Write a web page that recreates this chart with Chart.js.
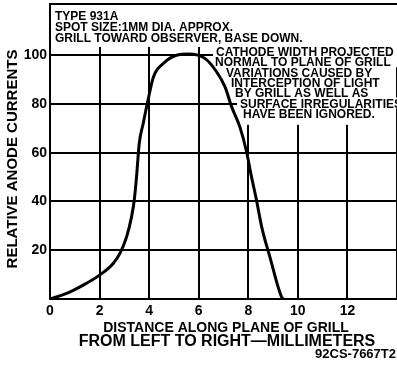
<!DOCTYPE html>
<html>
<head>
<meta charset="utf-8">
<script src="https://cdn.jsdelivr.net/npm/chart.js@4.4.1/dist/chart.umd.min.js"></script>
<style>
  body { margin: 0; background: #fff; }
  canvas { display: block; }
</style>
</head>
<body>
<canvas id="chart" width="397" height="366"></canvas>
<script>
// ค่าที่อ่านจากกราฟ (ระยะ มม., กระแสแอโนดสัมพัทธ์)
const distance = [0, 0.67, 1.34, 2.0, 2.55, 2.82, 3.09, 3.29, 3.40, 3.49, 3.60, 3.76, 3.94, 4.17, 4.57, 5.1, 5.6, 6.25, 6.72, 7.06, 7.33, 7.66, 7.93, 8.13, 8.33, 8.54, 8.87, 9.34, 9.42];
const current  = [0, 2.3, 5.7, 9.8, 14.6, 18.7, 25.5, 33.7, 40.6, 50, 63.8, 72, 80.9, 91, 96.6, 100, 100.5, 98.7, 93.2, 87, 78.8, 70.6, 60.4, 50.1, 40.6, 29.6, 17.3, 0.9, 0];
const yTicks = [0, 20, 40, 60, 80, 100];
const noteLeft = ['TYPE 931A', 'SPOT SIZE:1MM DIA. APPROX.', 'GRILL TOWARD OBSERVER, BASE DOWN.'];
const noteRight = ['CATHODE WIDTH PROJECTED', 'NORMAL TO PLANE OF GRILL', 'VARIATIONS CAUSED BY', 'INTERCEPTION OF LIGHT', 'BY GRILL AS WELL AS', 'SURFACE IRREGULARITIES', 'HAVE BEEN IGNORED.'];
const noteRightX = [216, 215, 226, 231, 235, 240, 243];
const yTitle = 'RELATIVE ANODE CURRENTS';
const xTitle = ['DISTANCE ALONG PLANE OF GRILL', 'FROM LEFT TO RIGHT\u2014MILLIMETERS'];
const figCode = '92CS-7667T2';

const FONT = '"Liberation Sans", Arial, sans-serif';

// ปลั๊กอินสำหรับข้อความบนกราฟ
const notesPlugin = {
    id: 'notes',
    beforeDatasetsDraw(chart) {
        const ctx = chart.ctx;
        const a = chart.chartArea;
        ctx.save();
        ctx.fillStyle = '#fff';
        ctx.fillRect(a.left + 1, a.top + 1, a.right - a.left, 42);
        ctx.font = 'bold 12px ' + FONT;
        noteRight.forEach((t, i) => {
            const base = 56 + i * 10.3;
            const w = ctx.measureText(t).width;
            const extra = i === noteRight.length - 1 ? 6 : 0;
            ctx.fillRect(noteRightX[i] - 3, base - 10, w + 10, 11 + extra);
        });
        ctx.fillStyle = '#000';
        ctx.textBaseline = 'alphabetic';
        noteLeft.forEach((t, i) => {
            ctx.fillText(t, 55, 20 + i * 11);
        });
        noteRight.forEach((t, i) => {
            ctx.fillText(t, noteRightX[i], 56 + i * 10.3);
        });
        ctx.restore();
    },
    afterDraw(chart) {
        const ctx = chart.ctx;
        const a = chart.chartArea;
        ctx.save();
        ctx.strokeStyle = '#000';
        ctx.lineWidth = 2;
        ctx.beginPath();
        ctx.moveTo(a.left, a.top);
        ctx.lineTo(a.right, a.top);
        ctx.stroke();

        ctx.fillStyle = '#000';
        ctx.textAlign = 'center';
        ctx.font = 'bold 14px ' + FONT;
        ctx.fillText(xTitle[0], 226, 332);
        ctx.font = 'bold 16px ' + FONT;
        ctx.fillText(xTitle[1], 227, 346);
        ctx.font = 'bold 13px ' + FONT;
        ctx.textAlign = 'right';
        ctx.fillText(figCode, 396, 358);

        ctx.translate(13, 159);
        ctx.rotate(-Math.PI / 2);
        ctx.textAlign = 'center';
        ctx.textBaseline = 'middle';
        ctx.font = 'bold 15px ' + FONT;
        ctx.fillText(yTitle, 0, 0);
        ctx.restore();
    }
};

const ctx = document.getElementById('chart').getContext('2d');
new Chart(ctx, {
    type: 'line',
    data: {
        datasets: [{
            data: distance.map((x, i) => ({ x: x, y: current[i] })),
            borderColor: '#000',
            borderWidth: 3,
            pointRadius: 0,
            fill: false,
            cubicInterpolationMode: 'monotone'
        }]
    },
    options: {
        responsive: false,
        animation: false,
        layout: { padding: { top: 4, right: 0, left: 0, bottom: 0 } },
        plugins: {
            legend: { display: false },
            tooltip: { enabled: false }
        },
        scales: {
            x: {
                type: 'linear',
                min: 0,
                max: 14,
                afterFit: s => { s.height = 67; s.paddingLeft = 0; s.paddingRight = 0; },
                ticks: {
                    stepSize: 2,
                    padding: 4,
                    color: '#000',
                    font: { family: FONT, size: 14, weight: 'bold' },
                    callback: v => v === 14 ? '' : v
                },
                grid: { color: '#000', lineWidth: 2, drawTicks: false },
                border: { color: '#000', width: 2 }
            },
            y: {
                min: 0,
                max: 121,
                afterFit: s => { s.width = 50; s.paddingTop = 0; s.paddingBottom = 0; },
                afterBuildTicks: s => { s.ticks = yTicks.map(v => ({ value: v })); },
                ticks: {
                    padding: 3,
                    color: '#000',
                    font: { family: FONT, size: 14, weight: 'bold' },
                    callback: v => v === 0 ? '' : v
                },
                grid: { color: '#000', lineWidth: 2, drawTicks: false },
                border: { color: '#000', width: 2 }
            }
        }
    },
    plugins: [notesPlugin]
});
</script>
</body>
</html>
